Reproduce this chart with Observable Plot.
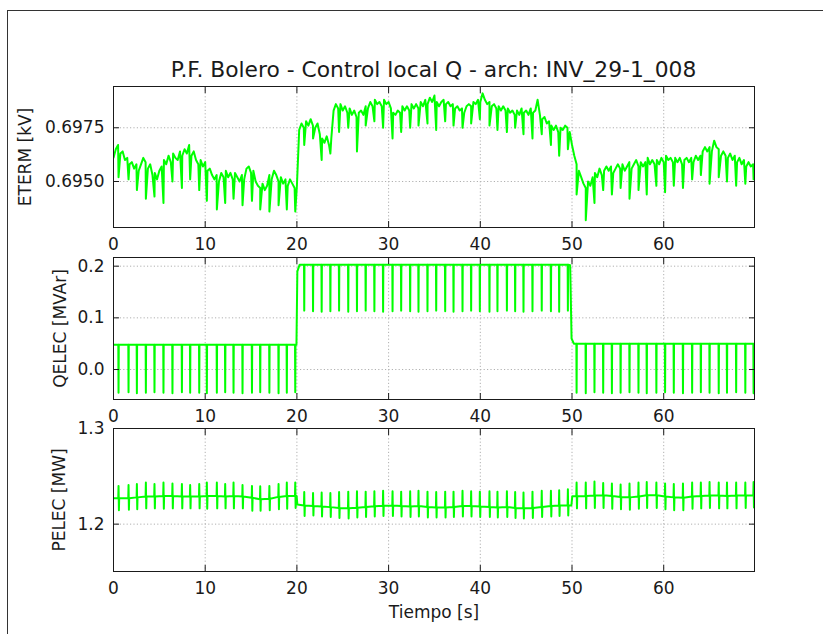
<!DOCTYPE html>
<html><head><meta charset="utf-8">
<script src="https://cdn.jsdelivr.net/npm/d3@7"></script>
<script src="https://cdn.jsdelivr.net/npm/@observablehq/plot@0.6"></script>
<style>
html,body{margin:0;padding:0;background:#fff;overflow:hidden;}
#fig{position:relative;width:823px;height:634px;font-family:"DejaVu Sans",sans-serif;overflow:hidden;}
#border{position:absolute;left:7px;top:10px;width:900px;height:700px;border:1px solid #333;box-sizing:border-box;}
#title{position:absolute;left:83px;width:701px;top:57px;text-align:center;font-size:21.8px;line-height:1.164;color:#1a1a1a;white-space:nowrap;}
.panel{position:absolute;left:0;}
</style></head><body>
<div id="fig"><div id="border"></div><div id="title">P.F. Bolero - Control local Q - arch: INV_29-1_008</div></div>
<script>
// ---------- data ----------
const xTicks = [0, 10, 20, 30, 40, 50, 60];
const etermTicks = [0.6950, 0.6975];
const qTicks = [0.0, 0.1, 0.2];
const pelecTicks = [1.2, 1.3];

// ETERM sampled every 0.25 s from t = 0
const etermT0 = 0, etermDt = 0.25;
const etermBase = [
0.6961,0.6965,0.6967,0.6963, 0.6964,0.6960,0.6961,0.6958, 0.6959,0.6956,0.6958,0.6955, 0.6958,0.6961,0.6959,0.6956,
0.6958,0.6953,0.6954,0.6951, 0.6955,0.6957,0.6960,0.6958, 0.6962,0.6959,0.6963,0.6961, 0.6960,0.6964,0.6962,0.6965,
0.6963,0.6967,0.6962,0.6964, 0.6960,0.6958,0.6960,0.6957, 0.6959,0.6955,0.6956,0.6953, 0.6951,0.6953,0.6950,0.6954,
0.6952,0.6955,0.6952,0.6954, 0.6951,0.6954,0.6952,0.6950, 0.6953,0.6951,0.6956,0.6957, 0.6954,0.6955,0.6950,0.6948,
0.6947,0.6949,0.6946,0.6948, 0.6953,0.6951,0.6955,0.6953, 0.6950,0.6952,0.6949,0.6951, 0.6948,0.6951,0.6949,0.6947,
0.6948,0.6974,0.6977,0.6975, 0.6978,0.6976,0.6979,0.6976, 0.6975,0.6977,0.6972,0.6970, 0.6968,0.6971,0.6967,0.6970,
0.6983,0.6986,0.6984,0.6986, 0.6983,0.6985,0.6982,0.6984, 0.6981,0.6983,0.6980,0.6982, 0.6983,0.6981,0.6985,0.6984,
0.6987,0.6985,0.6988,0.6986, 0.6987,0.6985,0.6988,0.6986, 0.6987,0.6984,0.6982,0.6981, 0.6983,0.6982,0.6985,0.6983,
0.6985,0.6983,0.6986,0.6984, 0.6986,0.6984,0.6987,0.6985, 0.6988,0.6986,0.6989,0.6987, 0.6990,0.6987,0.6985,0.6987,
0.6988,0.6986,0.6987,0.6985, 0.6986,0.6984,0.6985,0.6983, 0.6984,0.6982,0.6985,0.6986, 0.6985,0.6987,0.6986,0.6988,
0.6987,0.6991,0.6988,0.6986, 0.6987,0.6985,0.6986,0.6984, 0.6985,0.6983,0.6985,0.6983, 0.6984,0.6982,0.6983,0.6981,
0.6983,0.6981,0.6984,0.6982, 0.6983,0.6981,0.6984,0.6982, 0.6983,0.6988,0.6981,0.6979, 0.6980,0.6977,0.6978,0.6976,
0.6974,0.6976,0.6973,0.6975, 0.6974,0.6976,0.6975,0.6973, 0.6967,0.6962,0.6958,0.6955, 0.6952,0.6949,0.6947,0.6950,
0.6948,0.6952,0.6954,0.6952, 0.6956,0.6953,0.6955,0.6957, 0.6955,0.6957,0.6954,0.6956, 0.6958,0.6956,0.6958,0.6955,
0.6957,0.6959,0.6956,0.6958, 0.6960,0.6957,0.6959,0.6957, 0.6959,0.6961,0.6958,0.6960, 0.6958,0.6960,0.6958,0.6961,
0.6959,0.6962,0.6960,0.6961, 0.6959,0.6961,0.6959,0.6961, 0.6958,0.6960,0.6961,0.6959, 0.6961,0.6959,0.6962,0.6960,
0.6962,0.6964,0.6966,0.6964, 0.6966,0.6964,0.6969,0.6966, 0.6965,0.6962,0.6964,0.6962, 0.6961,0.6963,0.6960,0.6962,
0.6959,0.6961,0.6958,0.6960, 0.6957,0.6959,0.6957,0.6958, 0.6959
];

// periodic disturbance instants (s), seen in all three signals
const dipTimes = [
0.55,1.64,2.55,3.53,4.47,5.45,6.43,7.46,8.36,9.35,
10.18,11.27,12.18,13.09,14.07,15.1,16.0,17.0,18.0,18.9,19.82,
20.8,21.76,22.7,23.65,24.6,25.6,26.55,27.5,28.45,29.4,
30.43,31.37,32.35,33.26,34.24,35.19,36.17,37.08,38.06,39.0,39.95,
41.0,41.87,42.9,43.8,44.71,45.69,46.7,47.7,48.6,49.55,
50.5,51.5,52.45,53.4,54.35,55.3,56.27,57.25,58.15,59.2,
60.15,61.1,62.1,63.1,64.05,65.0,66.0,66.9,67.9,68.9,69.8
];
const etermDipMin = [
0.6952,0.6951,0.6946,0.6942,0.6943,0.6940,0.6950,0.6947,0.6951,0.6946,
0.6941,0.6937,0.6940,0.6942,0.6939,0.6941,0.6937,0.6936,0.6939,0.6937,0.6936,
0.6967,0.6970,0.6960,0.6963,0.6973,0.6975,0.6964,0.6976,0.6978,0.6975,
0.6970,0.6973,0.6975,0.6976,0.6977,0.6974,0.6978,0.6976,0.6975,0.6977,0.6979,
0.6976,0.6974,0.6973,0.6975,0.6972,0.6970,0.6972,0.6967,0.6962,0.6965,
0.6944,0.6932,0.6940,0.6946,0.6944,0.6947,0.6942,0.6946,0.6944,0.6948,
0.6945,0.6948,0.6947,0.6951,0.6953,0.6949,0.6952,0.6950,0.6948,0.6949,0.6951
];

// QELEC steady levels (held from each time on) and dip minima
const qLevelTimes  = [0,     19.95, 20.05, 20.3,  49.8,  49.95, 50.2,  69.9];
const qLevelValues = [0.048, 0.048, 0.190, 0.203, 0.202, 0.060, 0.050, 0.048];
const qDipMin = [
-0.045,-0.044,-0.046,-0.045,-0.044,-0.045,-0.046,-0.044,-0.045,-0.045,
-0.046,-0.045,-0.044,-0.045,-0.046,-0.045,-0.044,-0.045,-0.046,-0.045,-0.044,
0.114,0.113,0.112,0.113,0.114,0.112,0.113,0.114,0.113,0.112,
0.113,0.114,0.113,0.112,0.113,0.114,0.113,0.112,0.113,0.114,0.113,
0.112,0.113,0.114,0.113,0.112,0.113,0.114,0.113,0.112,0.114,
-0.045,-0.046,-0.044,-0.045,-0.046,-0.045,-0.044,-0.045,-0.046,-0.045,
-0.044,-0.045,-0.046,-0.045,-0.044,-0.045,-0.046,-0.045,-0.044,-0.045,-0.046
];

// PELEC step points, and level / spike top / spike bottom at each disturbance
const pelecStepTimes  = [0,     19.97,  20.05,  49.93,  50.03,  69.9];
const pelecStepValues = [1.227, 1.2295, 1.2205, 1.2195, 1.2292, 1.230];
const pelecBase = [
1.227,1.227,1.228,1.229,1.229,1.2295,1.2295,1.229,1.229,1.229,
1.2295,1.2295,1.229,1.2295,1.229,1.2275,1.226,1.2265,1.2285,1.2295,1.2295,
1.2195,1.219,1.2185,1.2178,1.217,1.2165,1.2172,1.218,1.2188,1.2192,
1.2195,1.219,1.2185,1.219,1.218,1.2175,1.2175,1.218,1.219,1.219,1.2185,
1.218,1.2175,1.218,1.217,1.2165,1.2168,1.218,1.219,1.2195,1.2195,
1.2292,1.2295,1.23,1.2303,1.2295,1.2285,1.228,1.229,1.2303,1.2303,
1.229,1.228,1.2275,1.229,1.2295,1.23,1.23,1.2295,1.23,1.23,1.23
];
const pelecTop = [
1.240,1.241,1.242,1.2435,1.242,1.2435,1.2425,1.242,1.241,1.242,
1.2435,1.2435,1.242,1.2435,1.241,1.240,1.2395,1.240,1.242,1.2435,1.2435,
1.2335,1.2325,1.233,1.2325,1.2335,1.234,1.2345,1.234,1.2345,1.235,
1.2345,1.234,1.2345,1.235,1.234,1.2335,1.234,1.234,1.235,1.2345,1.234,
1.2345,1.234,1.2345,1.2335,1.233,1.234,1.235,1.235,1.2355,1.2365,
1.2435,1.2435,1.2445,1.243,1.2425,1.2415,1.2425,1.2435,1.244,1.2435,
1.2425,1.242,1.2425,1.2435,1.2435,1.244,1.2435,1.2435,1.2435,1.2435,1.244
];
const pelecBot = [
1.2145,1.215,1.2155,1.2165,1.2165,1.216,1.2165,1.2165,1.2165,1.2165,
1.216,1.2165,1.2165,1.2165,1.2165,1.214,1.214,1.2145,1.2155,1.216,1.217,
1.2085,1.209,1.208,1.2075,1.2065,1.206,1.207,1.2075,1.208,1.2085,
1.2085,1.208,1.2075,1.208,1.207,1.207,1.207,1.2075,1.208,1.208,1.2075,
1.2075,1.207,1.2075,1.2065,1.206,1.2065,1.2075,1.208,1.2085,1.209,
1.2165,1.2165,1.217,1.217,1.216,1.2155,1.215,1.216,1.217,1.217,
1.2155,1.2145,1.2145,1.216,1.2165,1.217,1.2165,1.2165,1.2165,1.217,1.2175
];

// ---------- build series ----------
const byT = (a, b) => a.t - b.t;
const eterm = etermBase.map((v, i) => ({t: etermT0 + i * etermDt, v}))
  .concat(dipTimes.map((t, i) => ({t, v: etermDipMin[i]})))
  .sort(byT);

function heldLevel(t) {
  let v = qLevelValues[0];
  for (let i = 0; i < qLevelTimes.length; i++) if (qLevelTimes[i] <= t) v = qLevelValues[i];
  return v;
}
const qelec = qLevelTimes.map((t, i) => ({t, v: qLevelValues[i]}));
dipTimes.forEach((t, i) => {
  const L = heldLevel(t);
  qelec.push({t: t - 0.025, v: L}, {t, v: qDipMin[i]}, {t: t + 0.025, v: L});
});
qelec.sort(byT);

const pelec = pelecStepTimes.map((t, i) => ({t, v: pelecStepValues[i]}));
dipTimes.forEach((t, i) => {
  pelec.push({t: t - 0.03, v: pelecBase[i]}, {t, v: pelecTop[i]},
             {t: t + 0.04, v: pelecBot[i]}, {t: t + 0.07, v: pelecBase[i]});
});
pelec.sort(byT);

// ---------- panels ----------
const W = 823, ML = 113, MR = 69;
const ink = "#1a1a1a";
function panel({data, domain, ticks, fmt, label, labelOffset, top, frameH, mb, xLabel}) {
  const mt = 10;
  const svg = Plot.plot({
    width: W, height: mt + frameH + mb,
    marginLeft: ML, marginRight: MR, marginTop: mt, marginBottom: mb,
    style: {fontFamily: "'DejaVu Sans', sans-serif", fontSize: "17px", color: ink, background: "transparent", overflow: "visible"},
    x: {domain: [0, 69.9], label: null},
    y: {domain, label: null},
    marks: [
      Plot.gridX(xTicks.slice(1), {stroke: "#b0b0b0", strokeOpacity: 1, strokeWidth: 1, strokeDasharray: "1.2,2.2"}),
      Plot.gridY(ticks, {stroke: "#b0b0b0", strokeOpacity: 1, strokeWidth: 1, strokeDasharray: "1.2,2.2"}),
      Plot.line(data, {x: "t", y: "v", stroke: "#00ff00", strokeWidth: 2, clip: true}),
      Plot.frame({stroke: ink, strokeWidth: 1}),
      Plot.axisX(xTicks, {anchor: "bottom", tickSize: 0, tickPadding: 10, tickFormat: d => String(d),
        label: xLabel || null, labelArrow: false, labelAnchor: "center", labelOffset: 46}),
      Plot.axisX(xTicks, {anchor: "bottom", tickSize: -6, tickFormat: () => "", label: null}),
      Plot.axisX(xTicks, {anchor: "top", tickSize: -6, tickFormat: () => "", label: null}),
      Plot.axisY(ticks, {anchor: "left", tickSize: 0, tickPadding: 9, tickFormat: fmt,
        label, labelArrow: false, labelAnchor: "center", labelOffset}),
      Plot.axisY(ticks, {anchor: "left", tickSize: -6, tickFormat: () => "", label: null}),
      Plot.axisY(ticks, {anchor: "right", tickSize: -6, tickFormat: () => "", label: null})
    ]
  });
  svg.classList.add("panel");
  svg.style.top = (top - mt) + "px";
  document.getElementById("fig").appendChild(svg);
}

panel({data: eterm, domain: [0.69286, 0.69942], ticks: etermTicks, fmt: d3.format(".4f"),
       label: "ETERM [kV]", labelOffset: 95, top: 86, frameH: 141, mb: 36});
panel({data: qelec, domain: [-0.058, 0.2168], ticks: qTicks, fmt: d3.format(".1f"),
       label: "QELEC [MVAr]", labelOffset: 60, top: 257, frameH: 142, mb: 36});
panel({data: pelec, domain: [1.1505, 1.3], ticks: pelecTicks, fmt: d3.format(".1f"),
       label: "PELEC [MW]", labelOffset: 61, top: 428, frameH: 143, mb: 60, xLabel: "Tiempo [s]"});
</script>
</body></html>
